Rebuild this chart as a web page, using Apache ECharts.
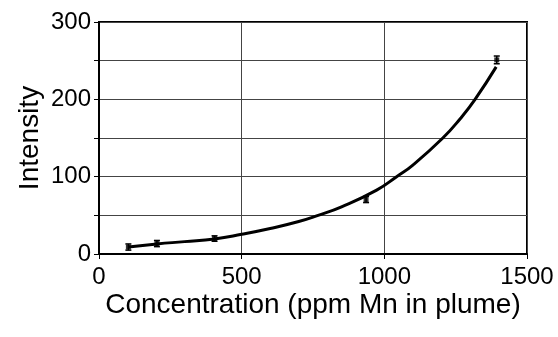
<!DOCTYPE html>
<html>
<head>
<meta charset="utf-8">
<script src="https://cdn.jsdelivr.net/npm/echarts@6/dist/echarts.min.js"></script>
<style>html,body{margin:0;padding:0;background:#fff}#c{width:558px;height:337px}</style>
</head>
<body>
<div id="c"></div>
<script>
// measured points
var concX = [103, 203, 405, 936, 1394];
var intensity = [9, 13.5, 20, 70.5, 251];
var errors = [4, 4, 3.5, 4, 5];
// trend curve
var curveX = [103, 203, 300, 405, 500, 600, 700, 768, 850, 973, 1043, 1100, 1205, 1266, 1318, 1392];
var curveY = [9, 13, 16, 19.5, 25.5, 33, 42, 50, 61, 82.6, 100, 115, 150, 175, 200, 242];
var xTicks = [0, 500, 1000, 1500];
var yTicks = [0, 100, 200, 300];

var pts = concX.map(function(x, i){ return [x, intensity[i]]; });
var errData = concX.map(function(x, i){ return [x, intensity[i] - errors[i], intensity[i] + errors[i]]; });
var curve = curveX.map(function(x, i){ return [x, curveY[i]]; });

var chart = echarts.init(document.getElementById('c'));
var font = 'Liberation Sans, Arial, sans-serif';
chart.setOption({
  animation: false,
  grid: {left: 99, right: 31, top: 22, bottom: 83, show: true, borderColor: '#000', borderWidth: 2, backgroundColor: 'transparent'},
  xAxis: {
    type: 'value', min: 0, max: 1500, interval: 500,
    name: 'Concentration (ppm Mn in plume)', nameLocation: 'middle', nameGap: 37, nameMoveOverlap: false,
    nameTextStyle: {fontFamily: font, fontSize: 28, color: '#000'},
    axisLine: {show: true, lineStyle: {color: '#000', width: 2}},
    axisTick: {show: true, length: 5, lineStyle: {color: '#000', width: 1}},
    axisLabel: {fontFamily: font, fontSize: 24, color: '#000', margin: 11,
      formatter: function(v){ return xTicks.indexOf(v) >= 0 ? String(v) : ''; }},
    splitLine: {show: true, lineStyle: {color: '#444', width: 1}}
  },
  yAxis: {
    type: 'value', min: 0, max: 300, interval: 50,
    name: 'Intensity', nameLocation: 'middle', nameGap: 55, nameMoveOverlap: false,
    nameTextStyle: {fontFamily: font, fontSize: 28, color: '#000'},
    axisLine: {show: true, lineStyle: {color: '#000', width: 2}},
    axisTick: {show: true, length: 5, lineStyle: {color: '#000', width: 1}},
    axisLabel: {fontFamily: font, fontSize: 24, color: '#000', margin: 8,
      formatter: function(v){ return yTicks.indexOf(v) >= 0 ? String(v) : ''; }},
    splitLine: {show: true, lineStyle: {color: '#444', width: 1}}
  },
  series: [
    {
      type: 'line', data: curve, smooth: true, showSymbol: false, symbol: 'none',
      lineStyle: {color: '#000', width: 3}, z: 3
    },
    {
      type: 'custom', z: 4,
      renderItem: function(params, api){
        var x = api.value(0);
        var lo = api.coord([x, api.value(1)]);
        var hi = api.coord([x, api.value(2)]);
        var w = 3;
        return {type: 'group', children: [
          {type: 'line', shape: {x1: lo[0], y1: lo[1], x2: hi[0], y2: hi[1]}, style: {stroke: '#000', lineWidth: 1.5}},
          {type: 'line', shape: {x1: lo[0]-w, y1: lo[1], x2: lo[0]+w, y2: lo[1]}, style: {stroke: '#000', lineWidth: 1.5}},
          {type: 'line', shape: {x1: hi[0]-w, y1: hi[1], x2: hi[0]+w, y2: hi[1]}, style: {stroke: '#000', lineWidth: 1.5}}
        ]};
      },
      encode: {x: 0, y: [1, 2]},
      data: errData
    },
    {
      type: 'scatter', data: pts, symbol: 'rect', symbolSize: 5,
      itemStyle: {color: '#000'}, z: 5
    }
  ]
});
</script>
</body>
</html>
